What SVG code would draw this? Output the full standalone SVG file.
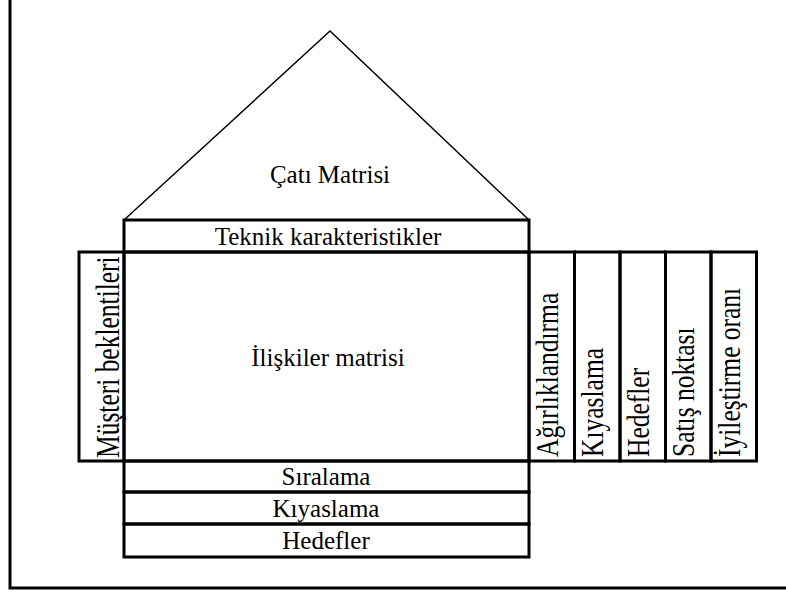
<svg xmlns="http://www.w3.org/2000/svg" width="786" height="592" viewBox="0 0 786 592">
<style>
.box{fill:none;stroke:#000;stroke-width:3}
.roof{fill:none;stroke:#000;stroke-width:1.5;stroke-linejoin:miter}
.frame{fill:none;stroke:#000;stroke-width:3}
text{font-family:'Liberation Serif','Times New Roman',serif;font-size:25px;fill:#000}
.c{text-anchor:middle}
.v{text-anchor:start;font-size:25.5px}
</style>
<rect width="786" height="592" fill="#fff"/>
<g id="frame"><path class="frame" d="M10,0 V588 H786"/></g>
<g id="cati">
<polyline class="roof" points="124,220 330,31 529,220"/>
<text class="c" x="330" y="183">Çatı Matrisi</text>
</g>
<g id="teknik">
<rect class="box" x="124" y="220" width="405" height="32"/>
<text class="c" x="328" y="245">Teknik karakteristikler</text>
</g>
<g id="musteri">
<rect class="box" x="79" y="252" width="45" height="209"/>
<text class="v" transform="translate(119,458) rotate(-90) scale(1,1.28)">Müşteri beklentileri</text>
</g>
<g id="iliskiler">
<rect class="box" x="124" y="252" width="405" height="209"/>
<text class="c" x="328" y="366">İlişkiler matrisi</text>
</g>
<g id="agirliklandirma">
<rect class="box" x="529" y="252" width="45.5" height="209"/>
<text class="v" transform="translate(558,457) rotate(-90) scale(1,1.22)">Ağırlıklandırma</text>
</g>
<g id="kiyaslama-sag">
<rect class="box" x="574.5" y="252" width="45.5" height="209"/>
<text class="v" transform="translate(603,457) rotate(-90) scale(1,1.22)">Kıyaslama</text>
</g>
<g id="hedefler-sag">
<rect class="box" x="620" y="252" width="45.5" height="209"/>
<text class="v" transform="translate(649,457) rotate(-90) scale(1,1.22)">Hedefler</text>
</g>
<g id="satis">
<rect class="box" x="665.5" y="252" width="45.5" height="209"/>
<text class="v" transform="translate(694,457) rotate(-90) scale(1,1.22)">Satış noktası</text>
</g>
<g id="iyilestirme">
<rect class="box" x="711" y="252" width="45.5" height="209"/>
<text class="v" transform="translate(740,457) rotate(-90) scale(1,1.22)">İyileştirme oranı</text>
</g>
<g id="siralama">
<rect class="box" x="124" y="461" width="405" height="31"/>
<text class="c" x="326" y="485">Sıralama</text>
</g>
<g id="kiyaslama-alt">
<rect class="box" x="124" y="492" width="405" height="32"/>
<text class="c" x="326" y="517">Kıyaslama</text>
</g>
<g id="hedefler-alt">
<rect class="box" x="124" y="524" width="405" height="33"/>
<text class="c" x="326" y="549">Hedefler</text>
</g>
<g id="connectors"/>
</svg>
